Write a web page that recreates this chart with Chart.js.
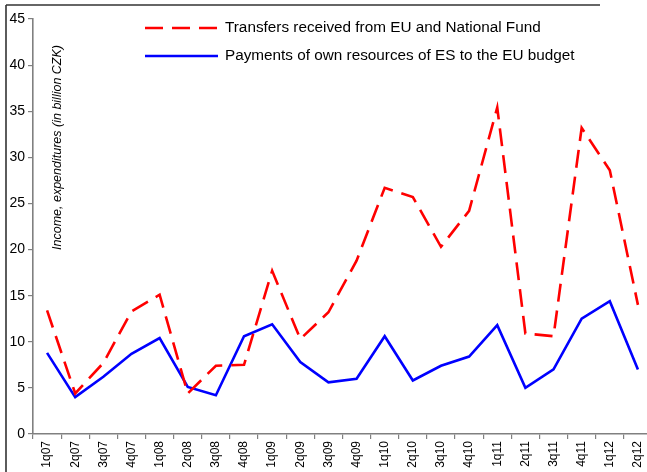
<!DOCTYPE html>
<html>
<head>
<meta charset="utf-8">
<script src="https://cdn.jsdelivr.net/npm/chart.js@4"></script>
<style>
html,body{margin:0;padding:0;overflow:hidden;background:#fff;width:647px;height:472px;}
#wrap{width:647px;height:472px;overflow:hidden;position:relative;}
canvas{display:block;}
</style>
</head>
<body>
<div id="wrap"><canvas id="c" width="660" height="472"></canvas></div>
<script>
const categories = ["1q07","2q07","3q07","4q07","1q08","2q08","3q08","4q08","1q09","2q09","3q09","4q09","1q10","2q10","3q10","4q10","1q11","2q11","3q11","4q11","1q12","2q12"];
const transfers = [13.4,4.4,7.7,13.3,15.1,4.4,7.4,7.5,17.7,10.3,13.2,18.8,26.7,25.7,20.3,24.2,35.4,10.9,10.6,33.2,28.6,14.0];
const payments = [8.8,4.0,6.2,8.7,10.4,5.1,4.2,10.6,11.9,7.8,5.6,6.0,10.6,5.8,7.4,8.4,11.8,5.0,7.0,12.5,14.4,7.0];
const seriesNames = ["Transfers received from EU and National Fund","Payments of own resources of ES to the EU budget"];
const yTitle = "Income, expenditures (in billion CZK)";
const yMin = 0, yMax = 45, yStep = 5;

const FONT = "'Liberation Sans', Arial, sans-serif";

const decor = {
  id: 'decor',
  beforeDraw(chart) {
    const ctx = chart.ctx;
    ctx.save();
    ctx.lineWidth = 1.6;
    ctx.strokeStyle = '#333';
    ctx.beginPath();
    ctx.moveTo(6, 472);
    ctx.lineTo(6, 5);
    ctx.stroke();
    ctx.beginPath();
    ctx.moveTo(6, 5);
    ctx.lineTo(600, 5);
    ctx.stroke();
    ctx.restore();
  },
  afterDraw(chart) {
    const ctx = chart.ctx;
    ctx.save();
    ctx.translate(58, 147.5);
    ctx.rotate(-Math.PI/2);
    ctx.font = "italic 12.5px " + FONT;
    ctx.fillStyle = '#000';
    ctx.textAlign = 'center';
    ctx.textBaseline = 'middle';
    ctx.fillText(yTitle, 0, 0);
    ctx.restore();
    const ds = chart.data.datasets;
    const ys = [28, 56];
    ds.forEach((d, i) => {
      ctx.save();
      ctx.strokeStyle = d.borderColor;
      ctx.lineWidth = d.borderWidth;
      ctx.setLineDash(d.borderDash || []);
      ctx.beginPath();
      ctx.moveTo(145, ys[i]);
      ctx.lineTo(218, ys[i]);
      ctx.stroke();
      ctx.setLineDash([]);
      ctx.font = "15.3px " + FONT;
      ctx.fillStyle = '#000';
      ctx.textBaseline = 'middle';
      ctx.fillText(d.label, 225, ys[i]);
      ctx.restore();
    });
  }
};

new Chart(document.getElementById('c'), {
  type: 'line',
  data: {
    labels: categories,
    datasets: [
      {label: seriesNames[0], data: transfers, borderColor: '#ff0000', borderWidth: 2.6, borderDash: [18, 9], pointRadius: 0, tension: 0, fill: false},
      {label: seriesNames[1], data: payments, borderColor: '#0000ff', borderWidth: 2.6, pointRadius: 0, tension: 0, fill: false}
    ]
  },
  options: {
    responsive: false,
    animation: false,
    layout: {padding: {left: 0, top: 19, right: 8, bottom: 0}},
    plugins: {legend: {display: false}, tooltip: {enabled: false}},
    scales: {
      x: {
        type: 'category',
        offset: true,
        grid: {display: true, drawOnChartArea: false, drawTicks: true, tickLength: 5, color: '#808080', lineWidth: 1.2, offset: true},
        border: {display: true, color: '#808080', width: 1.6},
        ticks: {minRotation: 90, maxRotation: 90, autoSkip: false, padding: 2, color: '#000', font: {family: FONT, size: 12}},
        afterFit(s) { s.height = 38; }
      },
      y: {
        min: yMin, max: yMax,
        grid: {display: true, drawOnChartArea: false, drawTicks: true, tickLength: 5, color: '#808080', lineWidth: 1.2},
        border: {display: true, color: '#808080', width: 1.6},
        ticks: {stepSize: yStep, padding: 3, color: '#000', font: {family: FONT, size: 14}},
        afterFit(s) { s.width = 33; }
      }
    }
  },
  plugins: [decor]
});
</script>
</body>
</html>
